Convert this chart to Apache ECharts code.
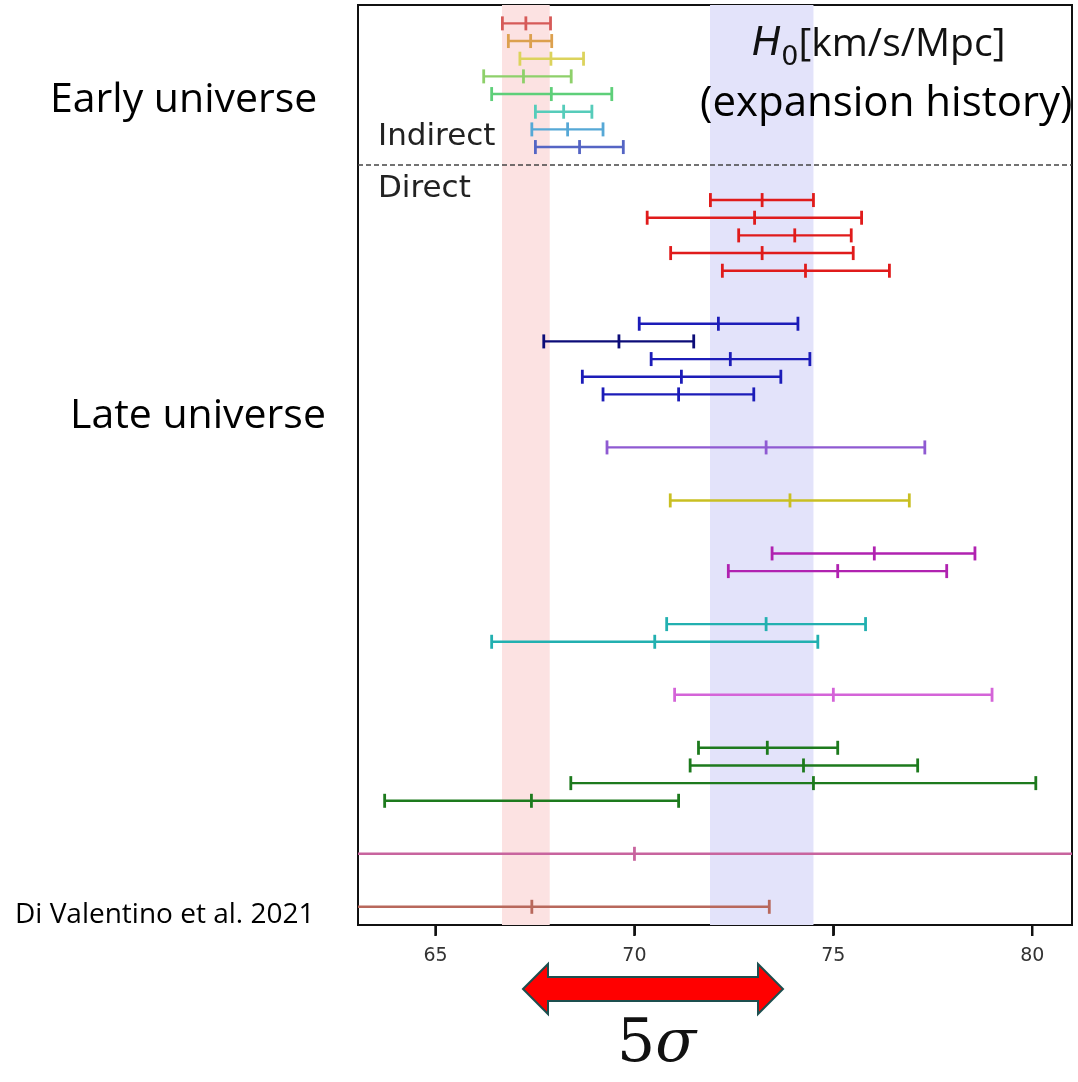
<!DOCTYPE html>
<html>
<head>
<meta charset="utf-8">
<script src="https://cdn.jsdelivr.net/npm/echarts@6/dist/echarts.min.js"></script>
<style>html,body{margin:0;padding:0;background:#fff;}#c{width:1078px;height:1082px;}</style>
</head>
<body>
<div id="c"></div>
<script>
// ---------- data ----------
// Indirect (early universe) measurements: row, low, central, high
const indirectRows   = [0, 1, 2, 3, 4, 5, 6, 7];
const indirectLow    = [66.68, 66.83, 67.12, 66.21, 66.41, 67.51, 67.42, 67.51];
const indirectCenter = [67.27, 67.39, 67.90, 67.21, 67.91, 68.22, 68.32, 68.62];
const indirectHigh   = [67.89, 67.92, 68.72, 68.41, 69.43, 68.93, 69.21, 69.72];

// Direct (late universe) measurements
const directRows   = [10, 11, 12, 13, 14, 17, 18, 19, 20, 21, 24, 27, 30, 31, 34, 35, 38, 41, 42, 43, 44, 47, 50];
const directLow    = [71.91, 70.32, 72.62, 70.91, 72.21, 70.12, 67.72, 70.42, 68.69, 69.21, 69.31, 70.90, 73.46, 72.36, 70.81, 66.41, 71.01, 71.61, 71.40, 68.40, 63.72, 62.0, 61.4];
const directCenter = [73.21, 73.02, 74.03, 73.21, 74.30, 72.11, 69.61, 72.41, 71.18, 71.11, 73.31, 73.91, 76.03, 75.11, 73.31, 70.51, 75.00, 73.34, 74.25, 74.50, 67.41, 70.0, 67.42];
const directHigh   = [74.50, 75.71, 75.45, 75.50, 76.41, 74.11, 71.49, 74.41, 73.68, 73.00, 77.30, 76.91, 78.56, 77.85, 75.81, 74.61, 78.99, 75.11, 77.12, 80.09, 71.11, 82.0, 73.39];

// Reference bands: Planck and SH0ES
const planckBand = [66.67, 67.87];
const shoesBand  = [71.90, 74.50];
const dividerRow = 8;

// Axis ticks and ranges
const xTicks = [65, 70, 75, 80];
const xRange = [63.05, 81];
const rowRange = [-1.04, 51.03];

// ---------- styles ----------
const indirectColors = ['#d65a58', '#dca04e', '#dcd35c', '#8ed06a', '#5ecf79', '#56ccba', '#56a8d6', '#5565c4'];
const directColors = ['#e01b1b','#e01b1b','#e01b1b','#e01b1b','#e01b1b',
  '#1c1cb8','#0c0c78','#1c1cb8','#1c1cb8','#1c1cb8',
  '#8f5ad2','#c9bf22','#b022b0','#b022b0','#22b0b0','#22b0b0','#d464d8',
  '#1d7a1d','#1d7a1d','#1d7a1d','#1d7a1d','#c8649e','#b8685c'];

function buildData(rows, lo, c, hi, colors) {
  return rows.map((r, i) => ({ value: [lo[i], c[i], hi[i], r], itemStyle: { color: colors[i] } }));
}

function renderBar(params, api) {
  const lo = api.value(0), c = api.value(1), hi = api.value(2), r = api.value(3);
  const pL = api.coord([lo, r]), pC = api.coord([c, r]), pH = api.coord([hi, r]);
  const color = api.visual('color');
  const h = 7;
  const capStyle = { stroke: color, lineWidth: 2.8 };
  return {
    type: 'group',
    children: [
      { type: 'line', shape: { x1: pL[0], y1: pL[1], x2: pH[0], y2: pH[1] }, style: { stroke: color, lineWidth: 2.4 } },
      { type: 'line', shape: { x1: pL[0], y1: pL[1] - h, x2: pL[0], y2: pL[1] + h }, style: capStyle },
      { type: 'line', shape: { x1: pC[0], y1: pC[1] - h, x2: pC[0], y2: pC[1] + h }, style: capStyle },
      { type: 'line', shape: { x1: pH[0], y1: pH[1] - h, x2: pH[0], y2: pH[1] + h }, style: capStyle }
    ]
  };
}

const chart = echarts.init(document.getElementById('c'), null, { renderer: 'canvas' });
const pptFont = '"Open Sans", "Noto Sans", sans-serif';
const gridBottom = 157;
const plotBottomY = 1082 - gridBottom;

function txt(x, y, text, font, fill) {
  return { type: 'text', z: 10, style: { x: x, y: y, text: text, font: font, fill: fill || '#000', textVerticalAlign: 'middle' } };
}

const staticGraphics = [
  txt(50, 100, 'Early universe', '41px ' + pptFont),
  txt(70, 416, 'Late universe', '41px ' + pptFont),
  txt(15, 915, 'Di Valentino et al. 2021', '28px ' + pptFont),
  txt(378, 137, 'Indirect', '31px "DejaVu Sans"', '#222'),
  txt(378, 189, 'Direct', '31px "DejaVu Sans"', '#222'),
  { type: 'text', z: 10, style: {
      x: 752, y: 45, textVerticalAlign: 'middle',
      text: '{h|H}{s|0}{t|[km/s/Mpc]}',
      rich: {
        h: { fontFamily: 'DejaVu Sans', fontStyle: 'italic', fontSize: 39, fill: '#111', verticalAlign: 'bottom' },
        s: { fontFamily: 'DejaVu Sans', fontSize: 27, fill: '#111', verticalAlign: 'bottom', padding: [0, 0, -7, 0] },
        t: { fontFamily: pptFont, fontSize: 39, fill: '#111', verticalAlign: 'bottom' }
      } } },
  txt(700, 104, '(expansion history)', '42px ' + pptFont),
  { type: 'polygon', z: 10, shape: { points: [[523,989],[548,964],[548,977],[758,977],[758,964],[783,989],[758,1014],[758,1001],[548,1001],[548,1014]] },
    style: { fill: '#ff0000', stroke: '#1d4f4f', lineWidth: 2 } },
  { type: 'text', z: 10, style: {
      x: 617, y: 1045, textVerticalAlign: 'middle',
      text: '{a|5}{b|σ}',
      rich: {
        a: { fontFamily: '"DejaVu Serif", serif', fontSize: 60, fill: '#111' },
        b: { fontFamily: '"DejaVu Serif", serif', fontStyle: 'italic', fontSize: 60, fill: '#111' }
      } } }
];

chart.setOption({
  backgroundColor: '#ffffff',
  animation: false,
  grid: { left: 358, right: 6, top: 5, bottom: gridBottom, show: true, borderColor: '#111', borderWidth: 2, backgroundColor: 'transparent' },
  xAxis: {
    type: 'value', min: xRange[0], max: xRange[1], position: 'bottom',
    axisLine: { show: true, onZero: false, lineStyle: { color: '#111', width: 2 } },
    axisTick: { show: true, inside: false, customValues: xTicks, length: 10, lineStyle: { color: '#222', width: 2 } },
    axisLabel: { customValues: xTicks, color: '#333', fontFamily: 'DejaVu Sans', fontSize: 19, margin: 22 },
    splitLine: { show: false }
  },
  yAxis: {
    type: 'value', inverse: true, min: rowRange[0], max: rowRange[1], show: false
  },
  series: [
    {
      type: 'line', data: [], silent: true, z: 1,
      markArea: {
        silent: true,
        data: [
          [{ xAxis: planckBand[0], itemStyle: { color: '#fce2e2' } }, { xAxis: planckBand[1] }],
          [{ xAxis: shoesBand[0], itemStyle: { color: '#e3e3fa' } }, { xAxis: shoesBand[1] }]
        ]
      },
      markLine: {
        silent: true, symbol: 'none', label: { show: false },
        lineStyle: { color: '#444', width: 1.6, type: [5, 3] },
        data: [{ yAxis: dividerRow }]
      }
    },
    { type: 'custom', clip: true, z: 3, renderItem: renderBar, encode: { x: [0, 1, 2], y: 3 },
      data: buildData(indirectRows, indirectLow, indirectCenter, indirectHigh, indirectColors) },
    { type: 'custom', clip: true, z: 3, renderItem: renderBar, encode: { x: [0, 1, 2], y: 3 },
      data: buildData(directRows, directLow, directCenter, directHigh, directColors) }
  ],
  graphic: staticGraphics
});

// x-axis tick marks placed through the library's x scale (filled rectangles)
const tickGraphics = xTicks.map(v => {
  const px = chart.convertToPixel({ xAxisIndex: 0 }, v);
  return { type: 'rect', z: 100, shape: { x: px - 1.25, y: plotBottomY, width: 2.5, height: 11 }, style: { fill: '#111' } };
});
chart.setOption({ graphic: staticGraphics.concat(tickGraphics) });
</script>
</body>
</html>
